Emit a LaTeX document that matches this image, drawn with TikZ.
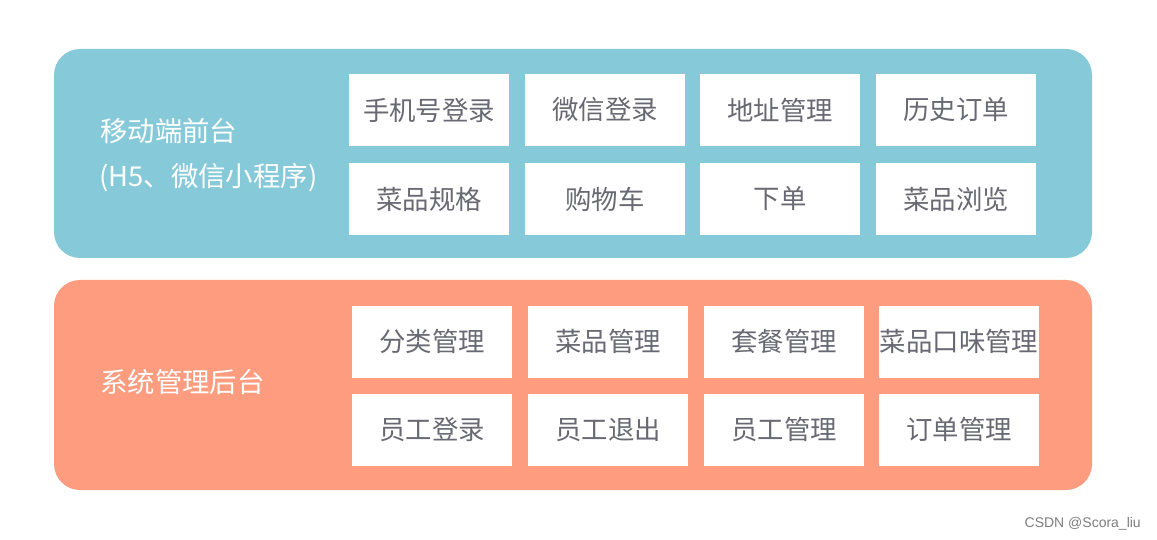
\documentclass[tikz,border=0pt]{standalone}
\usepackage{fontspec}
\setmainfont{Noto Sans CJK SC}
\newfontfamily\cjk{Noto Sans CJK SC}
\newfontfamily\wmfont{Liberation Sans}
\definecolor{topblue}{RGB}{134,202,217}
\definecolor{botsalmon}{RGB}{253,156,127}
\definecolor{itemgray}{RGB}{105,105,115}
\definecolor{markgray}{RGB}{125,125,125}
\tikzset{
  panel/.style={rounded corners=26pt, inner sep=0pt, minimum width=1038pt},
  item/.style={fill=white, minimum width=160pt, minimum height=72pt, inner sep=0pt,
    text=itemgray, font=\cjk\fontsize{26.4}{30}\selectfont},
  side/.style={anchor=west, text=white, inner sep=0pt, font=\cjk\fontsize{27.4}{30}\selectfont},
  wmark/.style={anchor=east, text=markgray, inner sep=0pt, font=\wmfont\fontsize{14}{16}\selectfont}
}
\begin{document}
\begin{tikzpicture}[x=1pt,y=-1pt]
\useasboundingbox (0,0) rectangle (1157,540);
% panels
\node[panel, fill=topblue, minimum height=209pt] (front) at (573,153.5) {};
\node[panel, fill=botsalmon, minimum height=210pt] (back) at (573,385) {};
% side labels
\node[side] (frontA) at (100,131) {移动端前台};
\node[side] (frontB) at (99,178) {(H5、微信小程序)};
\node[side] (backA) at (100,382) {系统管理后台};
% top items
\node[item] (t11) at (429,110) {手机号登录};
\node[item] (t12) at (605,110) {微信登录};
\node[item] (t13) at (780,110) {地址管理};
\node[item] (t14) at (956,110) {历史订单};
\node[item] (t21) at (429,199) {菜品规格};
\node[item] (t22) at (605,199) {购物车};
\node[item] (t23) at (780,199) {下单};
\node[item] (t24) at (956,199) {菜品浏览};
% bottom items
\node[item] (b11) at (432,341.5) {分类管理};
\node[item] (b12) at (608,341.5) {菜品管理};
\node[item] (b13) at (784,341.5) {套餐管理};
\node[item] (b14) at (959,341.5) {菜品口味管理};
\node[item] (b21) at (432,429.5) {员工登录};
\node[item] (b22) at (608,429.5) {员工退出};
\node[item] (b23) at (784,429.5) {员工管理};
\node[item] (b24) at (959,429.5) {订单管理};
% watermark
\node[wmark] (wm) at (1141,524) {CSDN @Scora\_liu};
\end{tikzpicture}
\end{document}
